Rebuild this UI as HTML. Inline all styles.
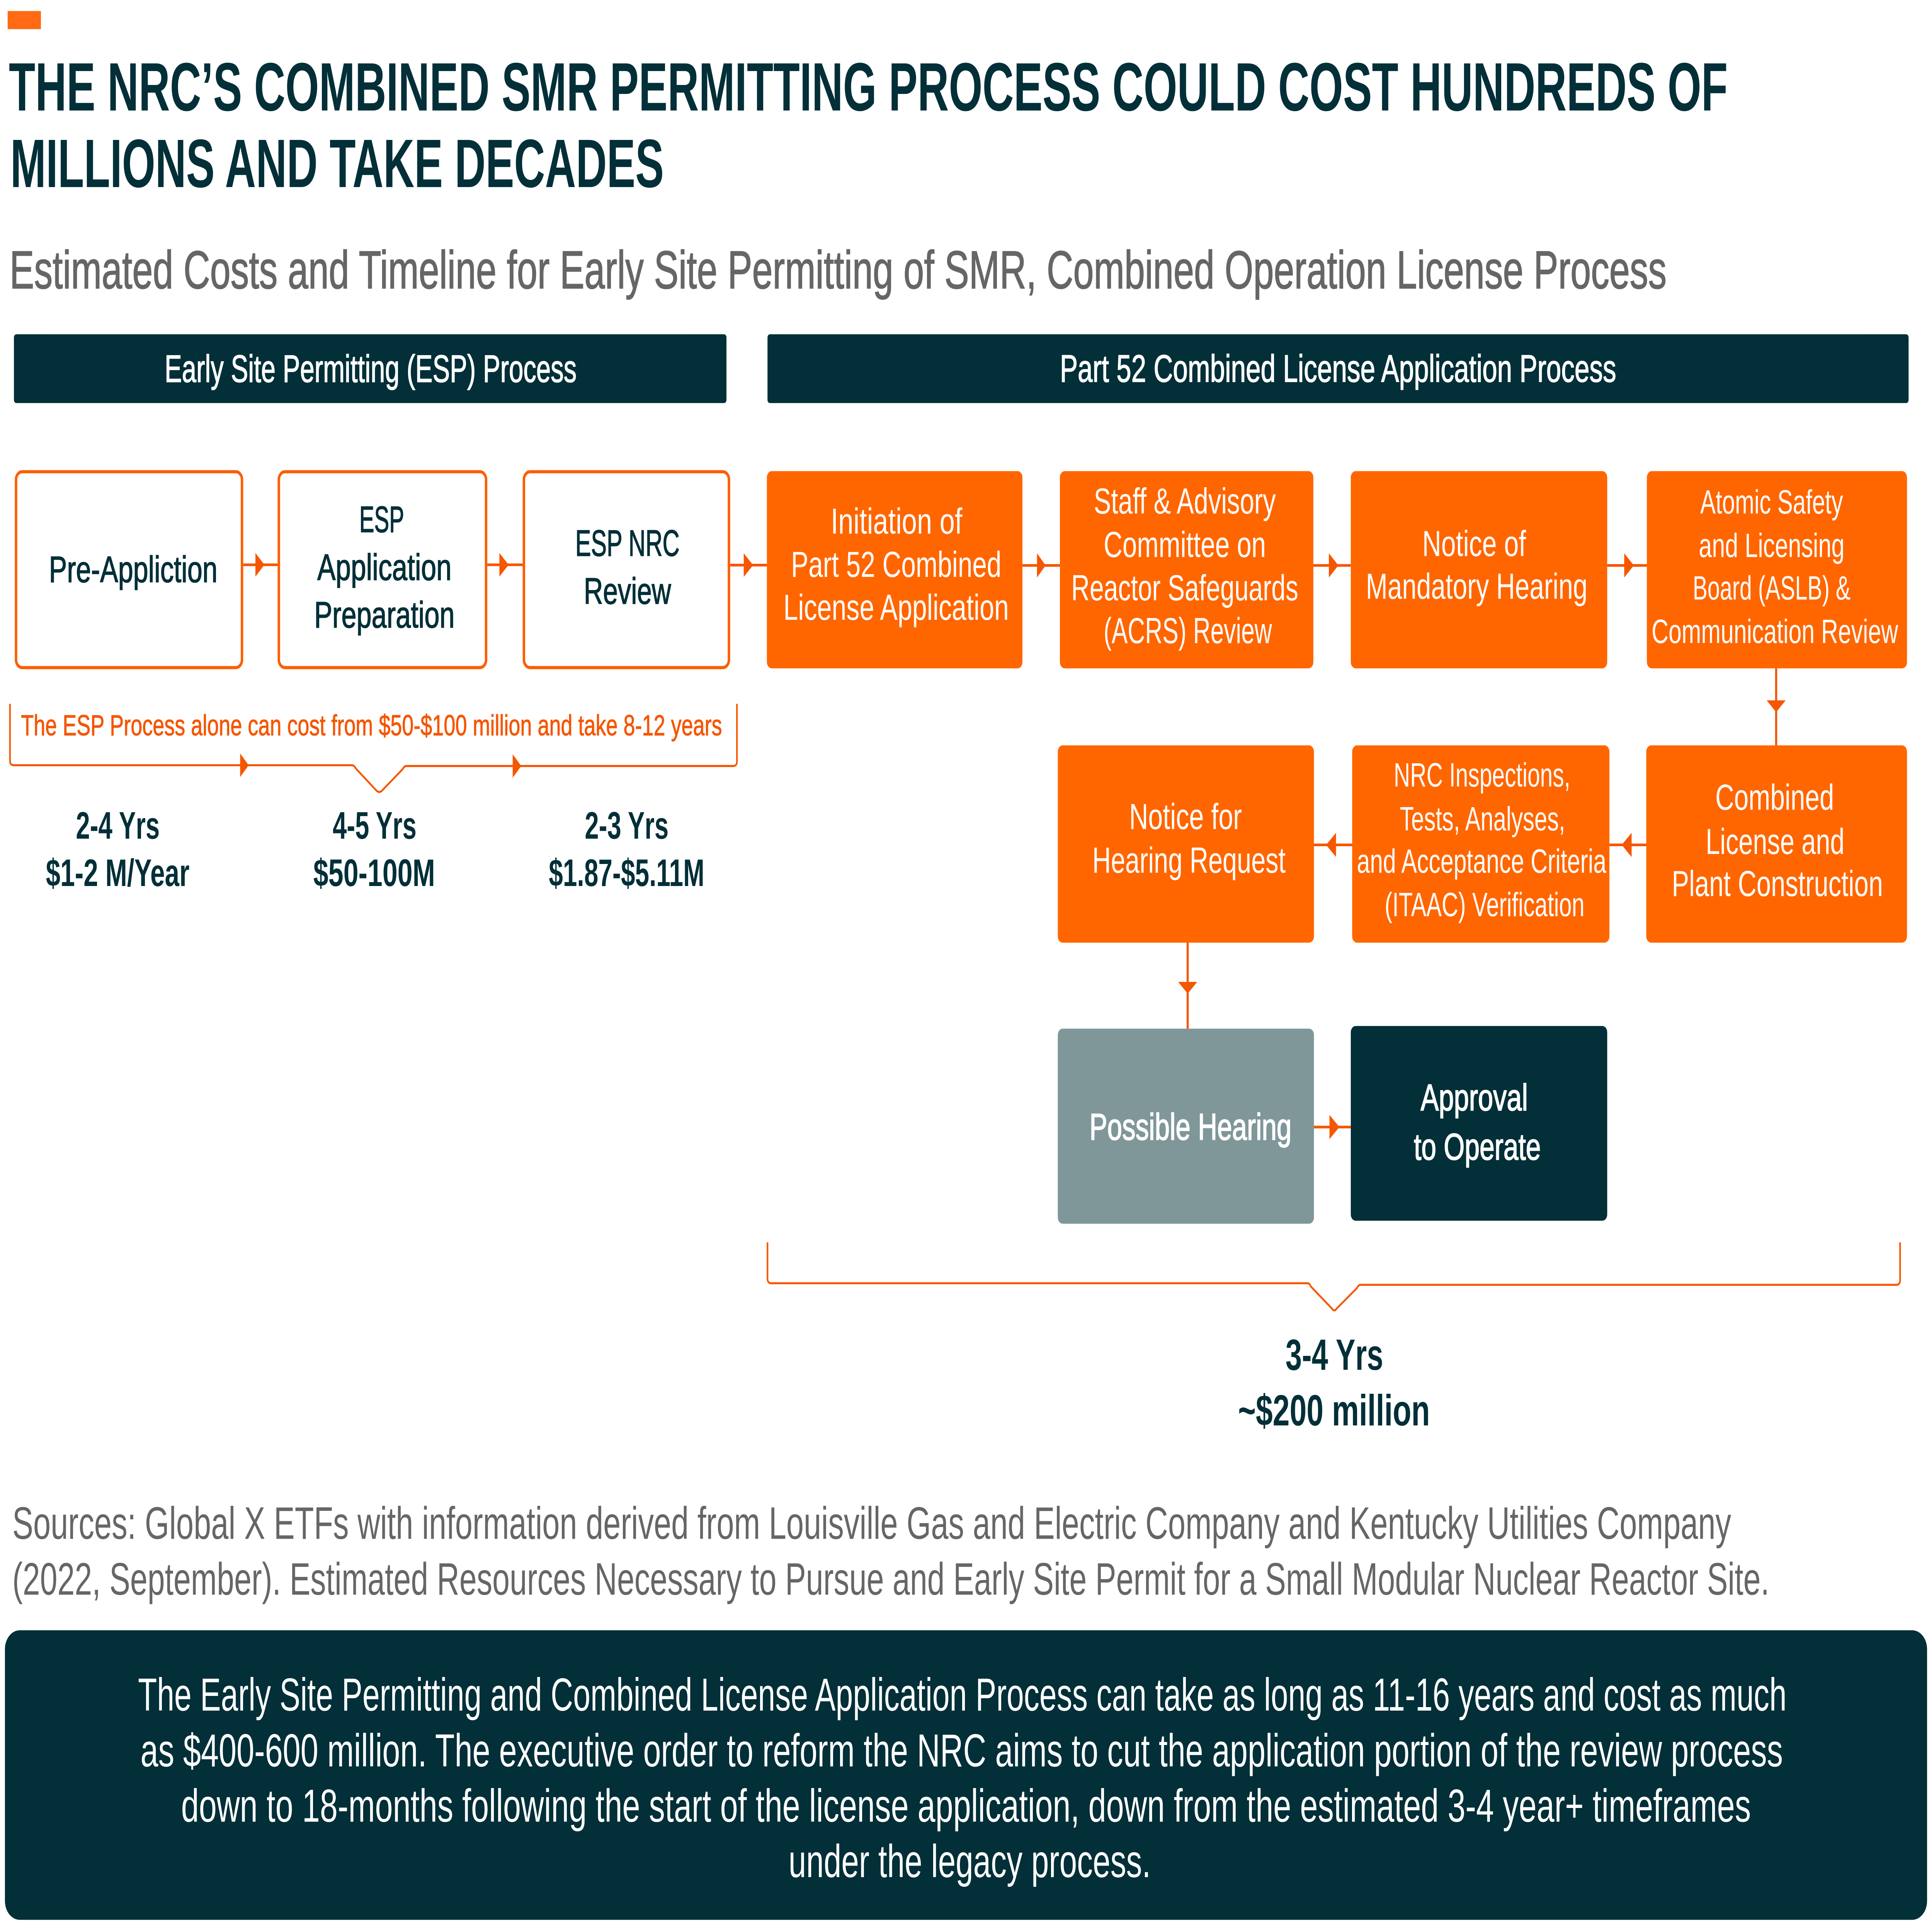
<!DOCTYPE html>
<html>
<head>
<meta charset="utf-8">
<style>
  html,body{margin:0;padding:0;background:#ffffff;width:100%;height:100%;overflow:hidden;}
  svg{display:block;position:absolute;left:0;top:0;width:100vw;height:100vh;}
  text{font-family:"Liberation Sans Narrow","Liberation Sans",sans-serif;}
</style>
</head>
<body>
<svg xmlns="http://www.w3.org/2000/svg" viewBox="0 0 1568 1227.03" preserveAspectRatio="none">
  <rect x="0" y="0" width="1568" height="1227.03" fill="#ffffff"/>

  <!-- orange mark -->
  <rect x="6.2" y="7" width="27" height="11.5" fill="#ff6a13"/>

  <!-- Title -->
  <text x="7.2" y="70.2" font-size="43.5" font-weight="bold" fill="#022f38" textLength="1395" lengthAdjust="spacingAndGlyphs">THE NRC’S COMBINED SMR PERMITTING PROCESS COULD COST HUNDREDS OF</text>
  <text x="8.4" y="118.8" font-size="43.5" font-weight="bold" fill="#022f38" textLength="530.4" lengthAdjust="spacingAndGlyphs">MILLIONS AND TAKE DECADES</text>

  <!-- Subtitle -->
  <text x="7.8" y="183.1" font-size="34" fill="#666666" stroke="#666666" stroke-width="0.5" textLength="1344.8" lengthAdjust="spacingAndGlyphs">Estimated Costs and Timeline for Early Site Permitting of SMR, Combined Operation License Process</text>

  <!-- Header bars -->
  <rect x="11.3" y="212.3" width="578.3" height="43.7" rx="2" fill="#022f38"/>
  <text x="133.6" y="242.6" font-size="24.4" fill="#ffffff" stroke="#ffffff" stroke-width="0.45" textLength="334.4" lengthAdjust="spacingAndGlyphs">Early Site Permitting (ESP) Process</text>
  <rect x="622.9" y="212.3" width="926.1" height="43.7" rx="2" fill="#022f38"/>
  <text x="860.2" y="242.5" font-size="24.4" fill="#ffffff" stroke="#ffffff" stroke-width="0.45" textLength="451.5" lengthAdjust="spacingAndGlyphs">Part 52 Combined License Application Process</text>

  <!-- ESP outline boxes -->
  <g fill="#ffffff" stroke="#fb5f00" stroke-width="2">
    <rect x="13" y="299.6" width="183.4" height="124.4" rx="5"/>
    <rect x="226.3" y="299.6" width="168.2" height="124.4" rx="5"/>
    <rect x="425.2" y="299.6" width="166.4" height="124.4" rx="5"/>
  </g>
  <g fill="#022f38" stroke="#022f38" stroke-width="0.45" font-size="23.4">
    <text x="39.7" y="369.7" textLength="136.8" lengthAdjust="spacingAndGlyphs">Pre-Appliction</text>
    <text x="291.6" y="337.9" textLength="36.4" lengthAdjust="spacingAndGlyphs">ESP</text>
    <text x="257.5" y="368.3" textLength="109" lengthAdjust="spacingAndGlyphs">Application</text>
    <text x="255" y="398.6" textLength="114" lengthAdjust="spacingAndGlyphs">Preparation</text>
    <text x="466.9" y="353" textLength="84.6" lengthAdjust="spacingAndGlyphs">ESP NRC</text>
    <text x="473.8" y="383.5" textLength="70.8" lengthAdjust="spacingAndGlyphs">Review</text>
  </g>

  <!-- connectors -->
  <g stroke="#f55600" stroke-width="1.7" fill="none">
    <line x1="197.4" y1="358.7" x2="225.3" y2="358.7"/>
    <line x1="395.5" y1="358.7" x2="424.2" y2="358.7"/>
    <line x1="592.6" y1="358.9" x2="622.4" y2="358.9"/>
    <line x1="829.8" y1="359.1" x2="860.2" y2="359.1"/>
    <line x1="1065.9" y1="359.1" x2="1096.3" y2="359.1"/>
    <line x1="1304.4" y1="359.1" x2="1336.6" y2="359.1"/>
    <line x1="1441.5" y1="424.5" x2="1441.5" y2="473.4"/>
    <line x1="1306.2" y1="536.6" x2="1336.1" y2="536.6"/>
    <line x1="1066.4" y1="536.6" x2="1097.4" y2="536.6"/>
    <line x1="963.9" y1="598.7" x2="963.9" y2="653.3"/>
    <line x1="1066.4" y1="715.8" x2="1096.3" y2="715.8"/>
  </g>
  <g fill="#f55600">
    <polygon points="207.3,351.2 214.6,358.7 207.3,366.2"/>
    <polygon points="405.3,351.2 412.8,358.7 405.3,366.2"/>
    <polygon points="603.6,351.4 611.2,358.9 603.6,366.4"/>
    <polygon points="841.6,351.4 848.6,359.1 841.6,366.8"/>
    <polygon points="1078.5,351.4 1086.2,359.1 1078.5,366.8"/>
    <polygon points="1318.2,351.4 1326,359.1 1318.2,366.8"/>
    <polygon points="1433.8,444.8 1449.2,444.8 1441.5,452.3"/>
    <polygon points="1324.2,528.9 1316.2,536.6 1324.2,544.3"/>
    <polygon points="1084.3,528.9 1076.3,536.6 1084.3,544.3"/>
    <polygon points="956.2,623.6 971.6,623.6 963.9,631.1"/>
    <polygon points="1079,708.1 1087,715.8 1079,723.5"/>
  </g>

  <!-- Orange boxes -->
  <g fill="#ff6600">
    <rect x="622.4" y="299.2" width="207.4" height="125.3" rx="4"/>
    <rect x="860.2" y="299.2" width="205.7" height="125.3" rx="4"/>
    <rect x="1096.3" y="299.2" width="208.1" height="125.3" rx="4"/>
    <rect x="1336.6" y="299.2" width="211.1" height="125.3" rx="4"/>
    <rect x="858.5" y="473.4" width="207.9" height="125.3" rx="4"/>
    <rect x="1097.4" y="473.4" width="208.8" height="125.3" rx="4"/>
    <rect x="1336.1" y="473.4" width="211.6" height="125.3" rx="4"/>
  </g>
  <rect x="858.5" y="653.3" width="207.9" height="123.9" rx="4" fill="#80979a"/>
  <rect x="1096.3" y="651.6" width="208.1" height="123.7" rx="4" fill="#022f38"/>

  <g fill="#ffffff" font-size="23">
    <text x="674.2" y="338.9" textLength="106.8" lengthAdjust="spacingAndGlyphs">Initiation of</text>
    <text x="642" y="366.4" textLength="170.7" lengthAdjust="spacingAndGlyphs">Part 52 Combined</text>
    <text x="635.8" y="393.6" textLength="183" lengthAdjust="spacingAndGlyphs">License Application</text>

    <text x="887.7" y="326.2" textLength="147.7" lengthAdjust="spacingAndGlyphs">Staff &amp; Advisory</text>
    <text x="895.7" y="353.7" textLength="131.7" lengthAdjust="spacingAndGlyphs">Committee on</text>
    <text x="869.4" y="381.2" textLength="184.3" lengthAdjust="spacingAndGlyphs">Reactor Safeguards</text>
    <text x="895.7" y="408.5" textLength="136.6" lengthAdjust="spacingAndGlyphs">(ACRS) Review</text>

    <text x="1154.3" y="353.2" textLength="84.2" lengthAdjust="spacingAndGlyphs">Notice of</text>
    <text x="1108.5" y="380.2" textLength="179.9" lengthAdjust="spacingAndGlyphs">Mandatory Hearing</text>

    <text x="916.4" y="526.5" textLength="91.5" lengthAdjust="spacingAndGlyphs">Notice for</text>
    <text x="886.5" y="554.2" textLength="156.9" lengthAdjust="spacingAndGlyphs">Hearing Request</text>

    <text x="1392.1" y="514.3" textLength="96.4" lengthAdjust="spacingAndGlyphs">Combined</text>
    <text x="1384.3" y="542.3" textLength="112.7" lengthAdjust="spacingAndGlyphs">License and</text>
    <text x="1356.8" y="569.1" textLength="171.4" lengthAdjust="spacingAndGlyphs">Plant Construction</text>
  </g>
  <g fill="#ffffff" font-size="21.5">
    <text x="1379.9" y="326.2" textLength="115.9" lengthAdjust="spacingAndGlyphs">Atomic Safety</text>
    <text x="1378.7" y="353.7" textLength="118.3" lengthAdjust="spacingAndGlyphs">and Licensing</text>
    <text x="1373.8" y="380.8" textLength="128.1" lengthAdjust="spacingAndGlyphs">Board (ASLB) &amp;</text>
    <text x="1340.4" y="408.3" textLength="200.1" lengthAdjust="spacingAndGlyphs">Communication Review</text>

    <text x="1131.1" y="499.5" textLength="143.4" lengthAdjust="spacingAndGlyphs">NRC Inspections,</text>
    <text x="1136" y="527.4" textLength="134.3" lengthAdjust="spacingAndGlyphs">Tests, Analyses,</text>
    <text x="1101.2" y="554.2" textLength="202.5" lengthAdjust="spacingAndGlyphs">and Acceptance Criteria</text>
    <text x="1123.8" y="581.8" textLength="162.2" lengthAdjust="spacingAndGlyphs">(ITAAC) Verification</text>
  </g>
  <g fill="#ffffff" stroke="#ffffff" stroke-width="0.55" font-size="23.6">
    <text x="884.2" y="723.8" textLength="164" lengthAdjust="spacingAndGlyphs">Possible Hearing</text>
    <text x="1153" y="705.2" textLength="87" lengthAdjust="spacingAndGlyphs">Approval</text>
    <text x="1147.5" y="736.5" textLength="103" lengthAdjust="spacingAndGlyphs">to Operate</text>
  </g>

  <!-- ESP brace -->
  <path d="M8.1,447 L8.1,483 Q8.1,486 11.1,486 L285.5,486 Q287.5,486 288.7,488 L304.8,501.5 Q307.8,504.5 310.8,501.5 L326.8,488.5 Q328,486.5 330,486.5 L595.1,486.5 Q598.1,486.5 598.1,483.5 L598.1,447" fill="none" stroke="#f55600" stroke-width="1.3"/>
  <g fill="#f55600">
    <polygon points="194.9,478.5 201.8,486 194.9,493.5"/>
    <polygon points="416.1,479 423,486.5 416.1,494"/>
  </g>
  <text x="17" y="467" font-size="18.5" fill="#f55600" stroke="#f55600" stroke-width="0.3" textLength="569" lengthAdjust="spacingAndGlyphs">The ESP Process alone can cost from $50-$100 million and take 8-12 years</text>

  <g fill="#022f38" font-size="24.4" font-weight="bold">
    <text x="61.6" y="532.7" textLength="68" lengthAdjust="spacingAndGlyphs">2-4 Yrs</text>
    <text x="37.2" y="562.7" textLength="116.6" lengthAdjust="spacingAndGlyphs">$1-2 M/Year</text>
    <text x="270" y="532.7" textLength="68" lengthAdjust="spacingAndGlyphs">4-5 Yrs</text>
    <text x="254.3" y="562.7" textLength="98.8" lengthAdjust="spacingAndGlyphs">$50-100M</text>
    <text x="474.6" y="532.7" textLength="68" lengthAdjust="spacingAndGlyphs">2-3 Yrs</text>
    <text x="445.4" y="562.7" textLength="126.3" lengthAdjust="spacingAndGlyphs">$1.87-$5.11M</text>
  </g>

  <!-- Large brace -->
  <path d="M622.9,789 L622.9,812 Q622.9,815 625.9,815 L1060.9,815 Q1062.9,815 1063.8,817 L1080.9,831 Q1082.9,833.5 1084.9,831 L1101.4,818 Q1102.4,816 1104.4,816 L1539.1,816 Q1542.1,816 1542.1,813 L1542.1,789" fill="none" stroke="#f55600" stroke-width="1.3"/>
  <g fill="#022f38" font-size="27.8" font-weight="bold">
    <text x="1043.3" y="870" textLength="79.3" lengthAdjust="spacingAndGlyphs">3-4 Yrs</text>
    <text x="1004.8" y="905.3" textLength="155.7" lengthAdjust="spacingAndGlyphs">~$200 million</text>
  </g>

  <!-- Sources -->
  <g fill="#666666" font-size="29">
    <text x="10" y="977.3" textLength="1395" lengthAdjust="spacingAndGlyphs">Sources: Global X ETFs with information derived from Louisville Gas and Electric Company and Kentucky Utilities Company</text>
    <text x="10" y="1012.8" textLength="1426" lengthAdjust="spacingAndGlyphs">(2022, September). Estimated Resources Necessary to Pursue and Early Site Permit for a Small Modular Nuclear Reactor Site.</text>
  </g>

  <!-- Bottom box -->
  <rect x="4" y="1035.4" width="1560" height="183.9" rx="12" fill="#022f38"/>
  <g fill="#ffffff" font-size="29.4">
    <text x="112" y="1086.4" textLength="1338" lengthAdjust="spacingAndGlyphs">The Early Site Permitting and Combined License Application Process can take as long as 11-16 years and cost as much</text>
    <text x="114" y="1121.9" textLength="1333" lengthAdjust="spacingAndGlyphs">as $400-600 million. The executive order to reform the NRC aims to cut the application portion of the review process</text>
    <text x="147" y="1157" textLength="1274" lengthAdjust="spacingAndGlyphs">down to 18-months following the start of the license application, down from the estimated 3-4 year+ timeframes</text>
    <text x="640" y="1192.2" textLength="294" lengthAdjust="spacingAndGlyphs">under the legacy process.</text>
  </g>
</svg>
</body>
</html>
